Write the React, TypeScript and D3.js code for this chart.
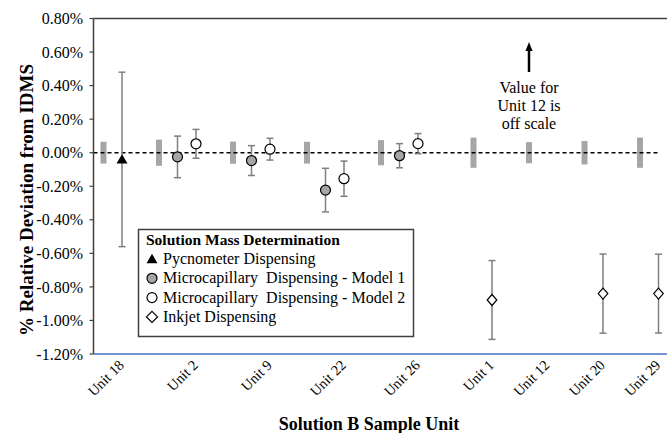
import React from "react";
import * as d3 from "d3";

const categories = ["Unit 18", "Unit 2", "Unit 9", "Unit 22", "Unit 26", "Unit 1", "Unit 12", "Unit 20", "Unit 29"];
const categorySlot = [0, 4, 8, 12, 16, 20, 23, 26, 29];
const idmsUncertainty = [0.065, 0.078, 0.066, 0.065, 0.075, 0.09, 0.063, 0.07, 0.09];

const pycUnits = ["Unit 18"];
const pycValues = [-0.04];
const pycErrors = [0.52];

const model1Units = ["Unit 2", "Unit 9", "Unit 22", "Unit 26"];
const model1Values = [-0.025, -0.047, -0.223, -0.018];
const model1Errors = [0.124, 0.089, 0.13, 0.072];

const model2Units = ["Unit 2", "Unit 9", "Unit 22", "Unit 26"];
const model2Values = [0.053, 0.021, -0.155, 0.054];
const model2Errors = [0.086, 0.065, 0.105, 0.06];

const inkjetUnits = ["Unit 1", "Unit 12", "Unit 20", "Unit 29"];
const inkjetValues: (number | null)[] = [-0.878, null, -0.84, -0.84];
const inkjetErrors = [0.235, 0, 0.236, 0.235];

const yTicks = [0.8, 0.6, 0.4, 0.2, 0, -0.2, -0.4, -0.6, -0.8, -1.0, -1.2];

const legendTitle = "Solution Mass Determination";
const legendLabels = ["Pycnometer Dispensing", "Microcapillary  Dispensing - Model 1", "Microcapillary  Dispensing - Model 2", "Inkjet Dispensing"];

const W = 667, H = 433;
const FONT = "'Liberation Serif', 'Times New Roman', serif";

export default function App() {
  const left = 93.5, top = 18.5, bottom = 354;
  const x = d3.scaleLinear().domain([0, 29]).range([122, 658.5]);
  const y = d3.scaleLinear().domain([-1.2, 0.8]).range([bottom, top]);

  const slotOf = (u: string) => categorySlot[categories.indexOf(u)];
  const nSeries = (u: string) =>
    (model1Units.includes(u) ? 1 : 0) + (model2Units.includes(u) ? 1 : 0) +
    (pycUnits.includes(u) ? 1 : 0) + (inkjetUnits.includes(u) ? 1 : 0);

  const fmt = (v: number) => {
    const r = Math.round(v * 100) / 100;
    return (r < 0 ? "-" : "") + Math.abs(r).toFixed(2) + "%";
  };

  const errColor = "#7f7f7f";
  const ErrBar = ({ cx, v, e }: { cx: number; v: number; e: number }) => (
    <g stroke={errColor} strokeWidth={1.5}>
      <line x1={cx} x2={cx} y1={y(v + e)} y2={y(v - e)} />
      <line x1={cx - 3.5} x2={cx + 3.5} y1={y(v + e)} y2={y(v + e)} />
      <line x1={cx - 3.5} x2={cx + 3.5} y1={y(v - e)} y2={y(v - e)} />
    </g>
  );

  const tri = (cx: number, cy: number, s: number) =>
    `M${cx},${cy - s * 0.95} L${cx + s},${cy + s * 0.75} L${cx - s},${cy + s * 0.75} Z`;
  const dia = (cx: number, cy: number, w: number, h: number) =>
    `M${cx},${cy - h} L${cx + w},${cy} L${cx},${cy + h} L${cx - w},${cy} Z`;

  const annX = x(slotOf("Unit 12") - 1);

  const legendSymbols = [
    (cy: number) => <path d={tri(152, cy, 5.5)} fill="#000" />,
    (cy: number) => <circle cx={152} cy={cy} r={5} fill="#a6a6a6" stroke="#000" strokeWidth={1.2} />,
    (cy: number) => <circle cx={152} cy={cy} r={5} fill="#fff" stroke="#000" strokeWidth={1.2} />,
    (cy: number) => <path d={dia(152, cy, 5.5, 5.5)} fill="#fff" stroke="#000" strokeWidth={1.2} />,
  ];

  return (
    <svg width={W} height={H} style={{ position: "absolute", left: 0, top: 0, background: "#fff" }} fontFamily={FONT}>
      {/* IDMS uncertainty bars */}
      {categories.map((c, i) => {
        const cx = x(categorySlot[i] - nSeries(c));
        return (
          <rect key={c} x={cx - 3} width={6} y={y(idmsUncertainty[i])}
            height={y(-idmsUncertainty[i]) - y(idmsUncertainty[i])} fill="#a6a6a6" />
        );
      })}

      {/* zero dashed line */}
      <line x1={left} x2={660} y1={y(0)} y2={y(0)} stroke="#000" strokeWidth={1.4} strokeDasharray="4,3" />

      {/* error bars */}
      {pycUnits.map((u, i) => <ErrBar key={"pe" + u} cx={x(slotOf(u))} v={pycValues[i]} e={pycErrors[i]} />)}
      {model1Units.map((u, i) => <ErrBar key={"m1e" + u} cx={x(slotOf(u) - 1)} v={model1Values[i]} e={model1Errors[i]} />)}
      {model2Units.map((u, i) => <ErrBar key={"m2e" + u} cx={x(slotOf(u))} v={model2Values[i]} e={model2Errors[i]} />)}
      {inkjetUnits.map((u, i) => inkjetValues[i] == null ? null :
        <ErrBar key={"ie" + u} cx={x(slotOf(u))} v={inkjetValues[i] as number} e={inkjetErrors[i]} />)}

      {/* markers */}
      {pycUnits.map((u, i) => <path key={"p" + u} d={tri(x(slotOf(u)), y(pycValues[i]), 5.5)} fill="#000" />)}
      {model1Units.map((u, i) => <circle key={"m1" + u} cx={x(slotOf(u) - 1)} cy={y(model1Values[i])} r={5} fill="#a6a6a6" stroke="#000" strokeWidth={1.2} />)}
      {model2Units.map((u, i) => <circle key={"m2" + u} cx={x(slotOf(u))} cy={y(model2Values[i])} r={5} fill="#fff" stroke="#000" strokeWidth={1.2} />)}
      {inkjetUnits.map((u, i) => inkjetValues[i] == null ? null :
        <path key={"i" + u} d={dia(x(slotOf(u)), y(inkjetValues[i] as number), 4.8, 5.5)} fill="#fff" stroke="#000" strokeWidth={1.2} />)}

      {/* frame */}
      <line x1={left} x2={W} y1={top} y2={top} stroke="#404040" strokeWidth={1.5} />
      <line x1={left} x2={left} y1={top} y2={bottom} stroke="#404040" strokeWidth={1.5} />
      <line x1={left} x2={W} y1={bottom} y2={bottom} stroke="#4472c4" strokeWidth={1.5} />

      {/* y ticks */}
      {yTicks.map(t => (
        <g key={t}>
          <line x1={left - 4} x2={left} y1={y(t)} y2={y(t)} stroke="#404040" strokeWidth={1.2} />
          <text x={83} y={y(t)} dy="0.35em" textAnchor="end" fontSize={16} fill="#000">{fmt(t)}</text>
        </g>
      ))}

      {/* x labels */}
      {categories.map((c, i) => (
        <text key={c} transform={`translate(${x(categorySlot[i]) + 3},${bottom + 12}) rotate(-45)`}
          textAnchor="end" fontSize={14.5} fill="#000">{c}</text>
      ))}

      {/* axis titles */}
      <text transform={`translate(33,200) rotate(-90)`} textAnchor="middle" fontSize={19} fontWeight="bold">% Relative Deviation from IDMS</text>
      <text x={369} y={430} textAnchor="middle" fontSize={18} fontWeight="bold">Solution B Sample Unit</text>

      {/* annotation */}
      <line x1={annX} x2={annX} y1={72} y2={48} stroke="#000" strokeWidth={2.5} />
      <path d={`M${annX},${42} L${annX + 3.5},${51} L${annX - 3.5},${51} Z`} fill="#000" />
      <text x={annX} textAnchor="middle" fontSize={16} fill="#000">
        <tspan x={annX} y={93}>Value for</tspan>
        <tspan x={annX} y={111}>Unit 12 is</tspan>
        <tspan x={annX} y={129}>off scale</tspan>
      </text>

      {/* legend */}
      <g>
        <rect x={138.5} y={229.5} width={275} height={107} fill="#fff" stroke="#404040" strokeWidth={1.5} />
        <text x={146} y={245} fontSize={15.5} fontWeight="bold">{legendTitle}</text>
        {legendLabels.map((l, i) => (
          <g key={l}>
            {legendSymbols[i](259 + i * 19.3)}
            <text x={163} y={264 + i * 19.3} fontSize={16} style={{ whiteSpace: "pre" }}>{l}</text>
          </g>
        ))}
      </g>
    </svg>
  );
}
